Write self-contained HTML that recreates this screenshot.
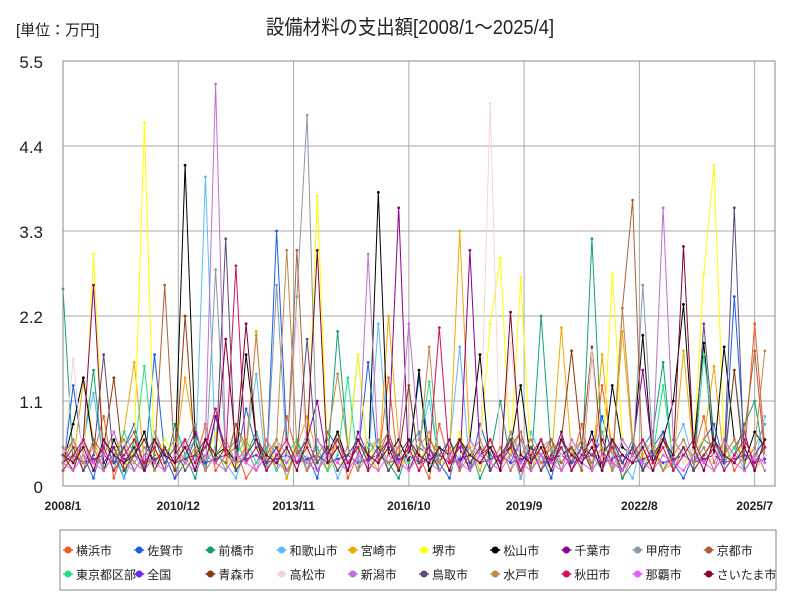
<!DOCTYPE html>
<html><head><meta charset="utf-8">
<style>
body{margin:0;background:#fff;width:800px;height:600px;overflow:hidden;font-family:"Liberation Sans","Noto Sans CJK JP",sans-serif;}
svg text{font-family:"Liberation Sans","Noto Sans CJK JP",sans-serif;}
</style></head><body>
<svg id="chart" width="800" height="600">
<rect x="0" y="0" width="800" height="600" fill="#fff"/>
<text x="16" y="35" font-size="15" fill="#222">[単位：万円]</text>
<text x="410" y="34" font-size="20" fill="#222" text-anchor="middle" transform="translate(410,0) scale(0.92,1) translate(-410,0)">設備材料の支出額[2008/1～2025/4]</text>
<g id="grid"></g>
<g id="series"></g>
<g id="axes"></g>
<rect x="60" y="530" width="716" height="60" fill="#fff" stroke="#888"/>
<g id="legend"></g>
</svg>
<script>
const yTicks=[0,1.1,2.2,3.3,4.4,5.5];
const yTickLabels=["0","1.1","2.2","3.3","4.4","5.5"];
const xTickMonths=[0,34,68,102,136,170,204];
const xTickLabels=["2008/1","2010/12","2013/11","2016/10","2019/9","2022/8","2025/7"];
const seriesNames=["横浜市","佐賀市","前橋市","和歌山市","宮崎市","堺市","松山市","千葉市","甲府市","京都市","東京都区部","全国","青森市","高松市","新潟市","鳥取市","水戸市","秋田市","那覇市","さいたま市"];
const seriesColors=["#f05a28","#1a5ee8","#13a075","#5bbcf5","#f0a800","#ffff00","#000000","#8b008b","#8a98a8","#b0603a","#22e088","#7028f0","#8b3a10","#f4d4dc","#c070d0","#604878","#c08850","#d0105a","#e060f0","#800030"];
const monthStep=3;
const s0=[.3,.6,.2,.4,.9,.1,.5,.3,.2,.7,.4,.1,.6,.3,.8,.2,.4,.5,.1,.3,.6,.2,.9,.4,.3,.5,.2,.7,.1,.4,.6,.3,1.4,.2,.5,.4,.1,.8,.3,.6,.2,.5,.4,.3,.7,.1,.5,.2,.6,.4,.3,.8,.2,1.3,.5,.1,.4,.6,.3,.7,.2,.5,.4,.9,.3,.6,.2,.4,2.1,.5];
const s1=[.2,1.3,.4,.1,.6,.3,.5,.8,.2,1.7,.4,.1,.3,.6,.2,.9,.4,.3,1.0,.5,.2,3.3,.6,.3,.4,.1,.7,.5,.2,.4,1.6,.3,.6,.2,.4,1.4,.5,.3,.1,.6,.2,.8,.4,.3,.5,.7,.2,.4,.1,.6,.3,.5,.2,.9,.4,.3,.6,.2,.5,.7,.3,.1,.4,.6,.8,.3,2.45,.5,.2,.4];
const s2=[2.55,.3,.5,1.5,.2,.4,.1,.6,.3,.5,.2,.8,.4,.1,.6,.3,.5,.2,.4,.7,.3,.5,.1,.6,.2,.4,.3,2.0,.5,.2,.6,.4,.3,.1,.5,.7,.2,.4,.6,.3,.5,.1,.4,1.1,.3,.6,.2,2.2,.4,.3,.5,.2,3.2,.4,.6,.1,.3,.5,.7,1.6,.2,.4,.3,.6,.5,.2,.4,.8,1.1,.3];
const s3=[.4,.2,.6,1.2,.3,.5,.1,.4,.2,.7,.3,.5,.6,.2,4.0,.4,.3,.1,.5,1.45,.2,.6,.4,.3,.7,.2,.5,.1,.4,1.7,.3,2.1,.5,.2,.4,.6,1.1,.3,.5,1.8,.2,.4,.6,.3,.5,.1,.7,.4,.2,.5,.3,.6,.4,.2,.5,.3,.1,.6,.4,.2,.5,.8,.3,.4,.6,.2,1.5,.4,.3,.9];
const s4=[.5,.3,1.35,.6,.2,.4,.7,1.6,.3,.5,.2,.4,1.4,.6,.3,.5,.2,.8,.4,2.0,.3,.6,.1,.5,.9,.4,.2,.6,.3,.5,.4,.2,2.2,.6,.3,.5,.7,.2,.4,3.3,.5,.2,.6,.3,.4,.7,.2,.5,.3,2.05,.4,.6,.2,1.7,.3,2.0,.5,.4,.6,.2,.3,1.75,.4,.6,1.55,.3,.5,.7,.2,.4];
const s5=[.2,.5,.3,3.0,.4,.6,.2,.5,4.7,.3,.6,.4,.2,.5,.3,.7,.4,.2,.6,.5,.3,.4,.2,.6,.3,3.75,.4,.2,.5,1.7,.3,.6,.4,.2,.5,.3,.6,.4,.2,.7,.3,.5,2.1,2.95,.4,2.7,.3,.5,.2,.6,.4,.3,.5,.2,2.75,.6,.3,.4,.2,.5,.6,.3,.4,2.75,4.15,.5,.3,.6,.4,.2];
const s6=[.3,.8,1.4,.5,.2,.6,.3,.4,.7,.2,.5,.3,4.15,.6,.2,.4,.5,.3,1.7,.6,.2,.4,.3,.5,.2,.6,.4,.7,.3,.5,.2,3.8,.4,.6,.3,1.5,.2,.5,.4,.3,.6,1.7,.2,.4,.5,1.3,.3,.6,.2,.4,.5,.3,.7,.2,1.3,.5,.4,1.95,.3,.6,1.1,2.35,.5,1.85,.4,1.8,.6,.3,.7,.5];
const s7=[.4,.2,.6,2.6,.3,.5,.2,.4,.6,.3,.5,.2,.4,.7,.3,.9,.5,.2,.4,.6,.3,.5,.2,.4,.6,1.1,.3,.5,.2,.7,.4,.3,.6,3.6,.2,.5,.4,.3,.6,.2,3.05,.4,.5,.3,.6,.2,.5,.4,.3,.7,.2,.5,.4,.6,.3,.2,.5,1.5,.4,.6,.3,.5,.2,.4,.6,.3,.5,.7,.2,.4];
const s8=[.5,.3,.6,.2,.4,.7,.3,.5,.2,.6,.4,.3,.5,.8,.2,2.8,.4,.6,.3,.5,.2,2.6,.4,2.45,4.8,.3,.5,.6,.2,.4,.3,.5,.7,.2,.4,.6,.3,.5,.2,.4,.6,.3,.5,.2,.7,.4,.3,.5,.6,.2,.4,.3,.5,.7,.2,.4,.3,2.6,.5,.2,.4,.6,.3,.5,.2,.4,.6,.3,.5,.8];
const s9=[.3,.5,.2,.6,.4,.3,.5,.7,.2,.4,2.6,.3,.5,.2,.6,.4,.3,.8,.5,.2,.4,.6,.3,3.05,.5,.2,.4,.6,.3,.5,.2,.4,.7,.3,.5,.2,.6,.4,.3,.5,.2,.4,.6,.3,.5,.7,.2,.4,.6,.3,.5,.2,1.7,.4,.3,2.3,3.7,.2,.4,.6,.3,.5,.2,.4,.6,.3,.5,.7,1.75,.4];
const s10=[.2,.4,.6,.3,.5,.2,.7,.4,1.55,.3,.5,.2,.4,.6,.3,.5,.2,.4,.6,.3,.5,.2,.4,.6,.3,.5,.2,.4,1.4,.3,.5,.6,.2,.4,.3,.5,1.35,.2,.4,.6,.3,.5,.2,.4,.6,.3,.5,.2,.4,.6,.3,.5,.2,.4,.6,.3,.5,.2,.4,1.3,.3,.5,.2,1.7,.6,.3,.5,.2,.4,.6];
const s11=[.3,.4,.3,.35,.4,.3,.35,.4,.3,.35,.4,.3,.35,.4,.3,.35,.4,.3,.35,.4,.3,.35,.4,.3,.35,.4,.3,.35,.4,.3,.35,.4,.3,.35,.4,.3,.35,.4,.3,.35,.4,.3,.35,.4,.3,.35,.4,.3,.35,.4,.3,.35,.4,.3,.35,.4,.3,.35,.4,.3,.35,.4,.3,.35,.4,.3,.35,.4,.3,.35];
const s12=[.4,.2,.6,.3,.5,1.4,.2,.4,.6,.3,.5,.2,2.2,.4,.6,.3,.5,.2,.4,.6,.3,.5,.2,.4,.6,.3,.5,.2,.4,.6,.3,.5,.2,.4,1.3,.3,.5,.2,.4,.6,.3,.5,.2,.4,.6,.3,.5,.2,.4,.6,1.75,.5,1.8,.4,.6,.3,.5,.2,.4,.6,.3,.5,.2,.4,.6,.3,1.5,.2,.4,.6];
const s13=[.2,1.65,.3,.5,.2,.4,.6,.3,.5,.2,.4,.6,.3,.5,.2,.4,.6,.3,.5,.2,.4,.6,.3,2.2,.4,.6,.3,.5,.2,.4,.6,.3,.5,.2,.4,.6,.3,.5,.2,.4,.6,.3,4.95,.2,1.85,.6,.3,.5,.2,.4,.6,.3,1.75,.2,.4,.6,.3,.5,.2,.4,.6,.3,.5,.2,.4,.6,.3,.5,.2,.4];
const s14=[.5,.3,.6,.2,.4,.7,.3,.5,.2,.6,.4,.3,.5,.2,.6,5.2,.4,.3,.5,.2,.6,.4,.3,.5,.2,.6,.4,.3,.5,.2,3.0,.4,.3,.5,2.1,.6,.4,.3,.5,.2,.6,.4,.3,.5,.2,.6,.4,.3,.5,.2,.6,.4,.3,.5,.2,.6,.4,.3,.5,3.6,.6,.4,.3,.5,.2,.6,.4,.3,.5,.2];
const s15=[.3,.5,.2,.4,1.7,.3,.5,.2,.4,.6,.3,.5,.2,.4,.6,.3,3.2,.2,.4,.6,.3,.5,.2,.4,1.9,.3,.5,.2,.4,.6,.3,.5,.2,.4,.6,.3,.5,.2,.4,.6,.3,.5,.2,.4,.6,.3,.5,.2,.4,.6,.3,.5,.2,.4,.6,.3,.5,.2,.4,.6,.3,.5,.2,2.1,.6,.3,3.6,.2,.4,.6];
const s16=[.4,.6,.3,.5,.2,.4,.6,.3,.5,.2,.4,.6,.3,.5,.2,.4,.6,.3,.5,1.95,.4,.6,3.05,.5,.2,.4,.6,1.45,.5,.2,.4,.6,.3,.5,.2,.4,1.8,.3,.5,.2,.4,.6,.3,.5,.2,.4,.6,.3,.5,.2,.4,.6,.3,.5,.2,2.3,.6,.3,.5,.2,.4,.6,.3,.5,.2,.4,.6,.3,.5,1.75];
const s17=[.2,.4,.6,.3,.5,.2,.4,.6,.3,.5,.2,.4,.6,.3,.5,1.0,.4,2.85,.3,.5,.2,.4,.6,.3,.5,.2,.4,.6,.3,.5,.2,.4,.6,.3,.5,.2,.4,2.05,.3,.5,.2,.4,.6,.3,.5,.2,.4,.6,.3,.5,.2,.4,.6,.3,.5,.2,.4,.6,.3,.5,.2,.4,.6,.3,.5,.2,.4,.6,.3,.5];
const s18=[.3,.2,.4,.3,.2,.4,.3,.2,.4,.3,.2,.4,.3,.2,.4,.3,.2,.4,.3,.2,.4,.3,.2,.4,.3,.2,.4,.3,.2,.4,.3,.2,.4,.3,.2,.4,.3,.2,.4,.3,.2,.4,.3,.2,.4,.3,.2,.4,.3,.2,.4,.3,.2,.4,.3,.2,.4,.3,.2,.4,.3,.2,.4,.3,.2,.4,.3,.2,.4,.3];
const s19=[.4,.3,.5,.2,.6,.4,.3,.5,.2,.6,.4,.3,.5,.2,.6,.4,1.9,.5,2.1,.6,.4,.3,.5,.2,.6,3.05,.3,.5,.2,.6,.4,.3,.5,.2,.6,.4,.3,.5,.2,.6,.4,.3,.5,.2,2.25,.4,.3,.5,.2,.6,.4,.3,.5,.2,.6,.4,.3,.5,.2,.6,.4,3.1,.5,.2,.6,.4,.3,.5,.2,.6];
const seriesValues=[s0,s1,s2,s3,s4,s5,s6,s7,s8,s9,s10,s11,s12,s13,s14,s15,s16,s17,s18,s19];

const X0=63,X1=775,Y0=486,Y1=61,MMAX=210,VMAX=5.5;
const xs=m=>X0+m/MMAX*(X1-X0);
const ys=v=>Y0-v/VMAX*(Y0-Y1);
const NS="http://www.w3.org/2000/svg";
function mk(tag,attrs,parent){const e=document.createElementNS(NS,tag);for(const k in attrs)e.setAttribute(k,attrs[k]);parent.appendChild(e);return e;}
const grid=document.getElementById('grid'),axes=document.getElementById('axes'),ser=document.getElementById('series'),leg=document.getElementById('legend');
yTicks.forEach((v,i)=>{
  const l=mk('line',{x1:X0,x2:X1,y1:ys(v),y2:ys(v),stroke:'#aaa','stroke-width':1},grid);
  
  
  const t=mk('text',{x:X0-20,y:ys(v)+7,'font-size':17,'text-anchor':'end',fill:'#222'},axes);
  t.textContent=yTickLabels[i];
  
  
});
xTickMonths.forEach((m,i)=>{
  const l=mk('line',{x1:xs(m),x2:xs(m),y1:Y1,y2:Y0,stroke:'#aaa','stroke-width':1},grid);
  
  
  const t=mk('text',{x:xs(m),y:510,'font-size':12,'font-weight':'bold','text-anchor':'middle',fill:'#222'},axes);
  t.textContent=xTickLabels[i];
  
  
});
const frame=mk('rect',{x:X0,y:Y1,width:X1-X0,height:Y0-Y1,fill:'none',stroke:'#888'},axes);


seriesValues.forEach((vals,si)=>{
  const pts=vals.map((v,i)=>xs(i*monthStep).toFixed(1)+','+ys(v).toFixed(1)).join(' ');
  const p=mk('polyline',{points:pts,fill:'none',stroke:seriesColors[si],'stroke-width':1},ser);
  
  
  vals.forEach((v,i)=>{
    const c=mk('circle',{cx:xs(i*monthStep),cy:ys(v),r:1.4,fill:seriesColors[si]},ser);
    
    
  });
});
seriesNames.forEach((n,i)=>{
  const row=Math.floor(i/10),col=i%10;
  const x=68+col*71.2,y=550+row*24;
  const g=mk('g',{},leg);
  
  
  mk('line',{x1:x-5,x2:x+5,y1:y,y2:y,stroke:seriesColors[i],'stroke-width':1.5},g);
  mk('circle',{cx:x,cy:y,r:3.5,fill:seriesColors[i]},g);
  const t=mk('text',{x:x+8,y:y+5,'font-size':12,fill:'#222'},g);
  t.textContent=n;
});
</script>
</body></html>
